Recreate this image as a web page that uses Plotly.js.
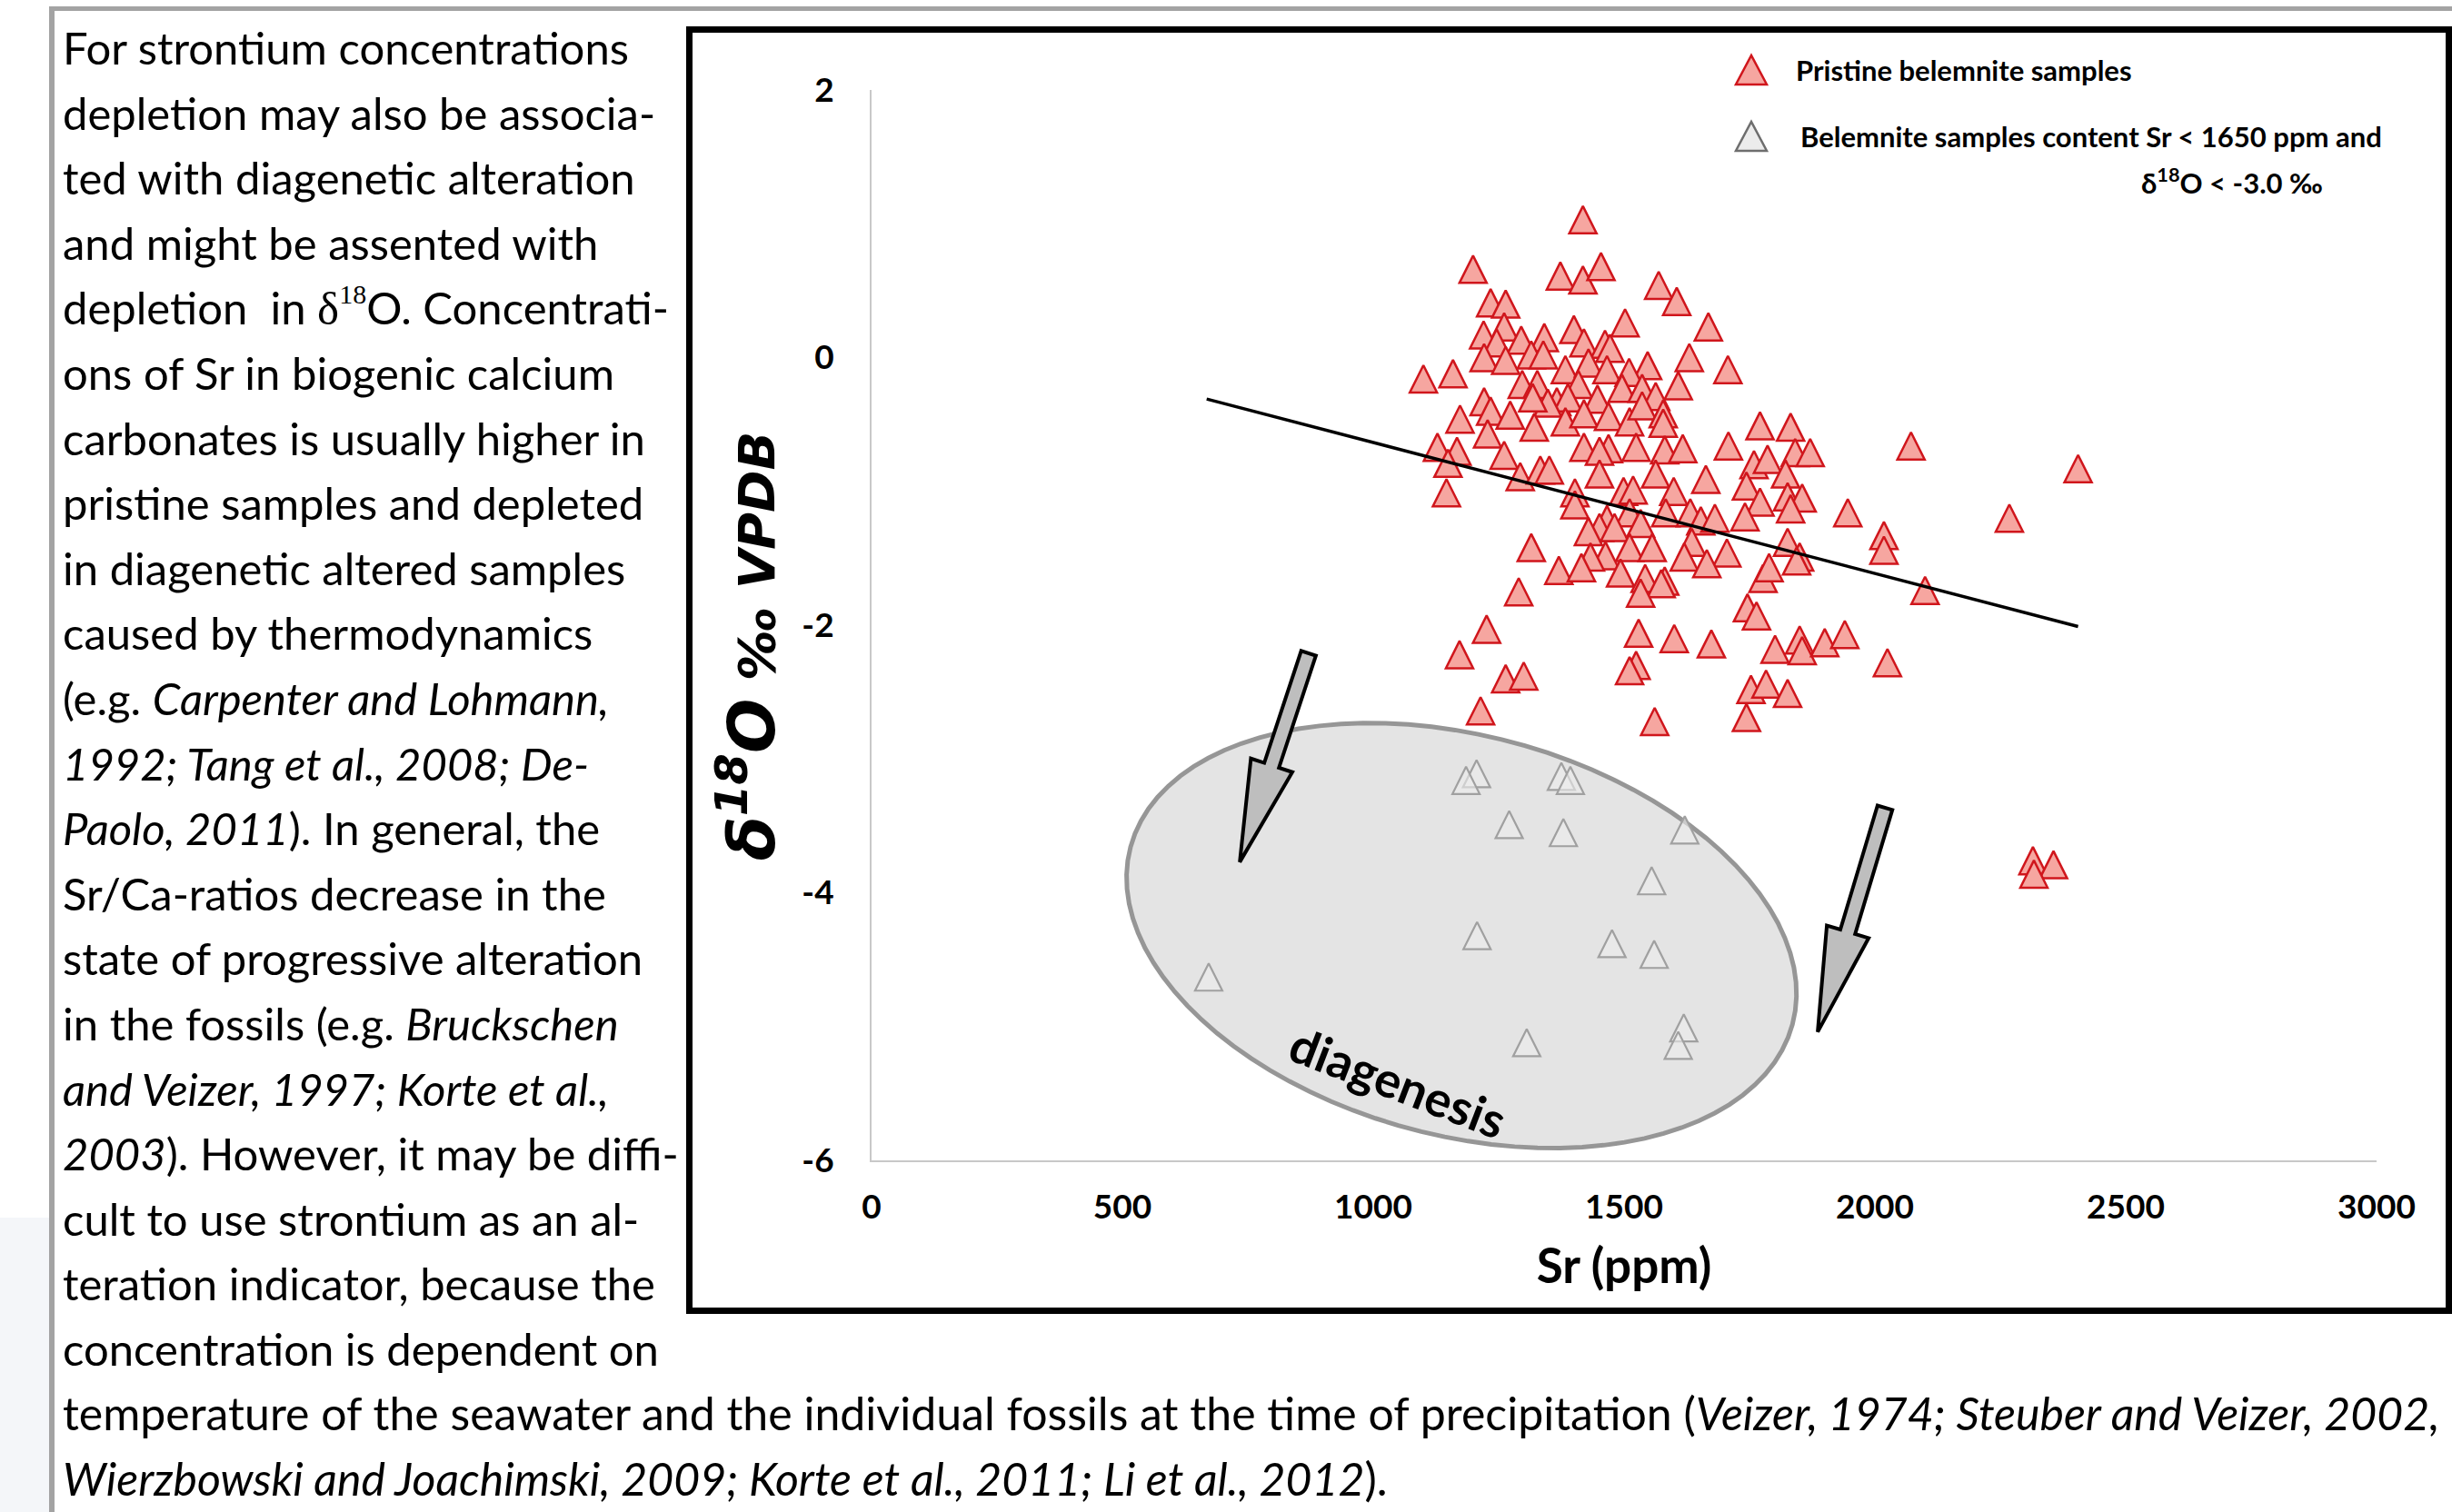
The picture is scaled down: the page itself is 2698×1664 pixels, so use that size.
<!DOCTYPE html>
<html><head><meta charset="utf-8">
<script src="https://cdn.plot.ly/plotly-3.0.1.min.js"></script>
<style>
html,body{margin:0;padding:0;background:#fff;}
body{width:2698px;height:1664px;position:relative;overflow:hidden;}
#frameTop{position:absolute;left:54px;top:7px;width:2644px;height:5px;background:#a3a3a3;}
#frameLeft{position:absolute;left:54px;top:7px;width:6px;height:1657px;background:#a3a3a3;}
#leftShade{position:absolute;left:0;top:1340px;width:54px;height:324px;background:#f4f6f9;}
#text{position:absolute;left:69px;top:17px;font-family:Lato,sans-serif;font-size:49px;line-height:71.6px;color:#000;white-space:nowrap;}
#text div{height:71.6px;}
#text div.wide{font-size:50px;}
.serif{font-family:'Liberation Serif',serif;font-size:51px;}
.sup{font-family:'Liberation Serif',serif;font-size:30px;position:relative;top:-23px;}
#box{position:absolute;left:755px;top:29px;width:1943px;height:1417px;border:7px solid #000;box-sizing:border-box;}
#chart{position:absolute;left:762px;top:36px;width:1929px;height:1403px;}
</style></head>
<body>
<div id="frameTop"></div><div id="frameLeft"></div><div id="leftShade"></div>
<div id="text">
<div>For strontium concentrations</div>
<div>depletion may also be associa-</div>
<div>ted with diagenetic alteration</div>
<div>and might be assented with</div>
<div>depletion &nbsp;in <span class="serif">δ</span><span class="sup">18</span>O. Concentrati-</div>
<div>ons of Sr in biogenic calcium</div>
<div>carbonates is usually higher in</div>
<div>pristine samples and depleted</div>
<div>in diagenetic altered samples</div>
<div>caused by thermodynamics</div>
<div>(e.g. <i>Carpenter and Lohmann,</i></div>
<div><i>1992; Tang et al., 2008; De-</i></div>
<div><i>Paolo, 2011</i>). In general, the</div>
<div>Sr/Ca-ratios decrease in the</div>
<div>state of progressive alteration</div>
<div>in the fossils (e.g. <i>Bruckschen</i></div>
<div><i>and Veizer, 1997; Korte et al.,</i></div>
<div><i>2003</i>). However, it may be diffi-</div>
<div>cult to use strontium as an al-</div>
<div>teration indicator, because the</div>
<div>concentration is dependent on</div>
<div class="wide">temperature of the seawater and the individual fossils at the time of precipitation (<i>Veizer, 1974; Steuber and Veizer, 2002,</i></div>
<div class="wide"><i>Wierzbowski and Joachimski, 2009; Korte et al., 2011; Li et al., 2012</i>).</div>
</div>
<div id="box"></div>
<div id="chart"></div>
<script>
// ---------- data ----------
const redX = [1418,1199,1373,1418,1454,1569,1605,1234,1264,1261,1220,1246,1295,1341,1400,1502,1668,1420,1462,1472,
  1221,1264,1315,1339,1383,1429,1466,1547,1630,1707,1100,1159,1510,1297,1327,1409,1608,1496,1536,1563,
  1221,1366,1388,1447,1348,1318,1173,1234,1273,1321,1383,1420,1469,1511,1536,1578,1578,1771,1228,1128,
  1167,1261,1420,1469,1451,1524,1581,1617,1708,1149,1293,1333,1351,1451,1563,1663,1759,1832,2072,2405,
  1841,1871,1786,1822,1146,1402,1402,1499,1518,1599,1744,1771,1511,1466,1451,1429,1481,1533,1583,1632,
  1653,1681,1741,1635,1511,1556,1463,1433,1705,1620,1665,1315,1370,1415,1493,1542,1581,1574,1533,1777,
  1290,1746,1764,1226,1529,1600,1674,1172,1524,1511,1264,1300,1753,1744,1214,1561,1826,1855,1832,1946,
  2268,2018,2018,1826,1850,1844,1789,2100,1801,1850,1855,1900,1940,2025,1783,1826,2315,2356,2317];
const redY = [1.03,0.66,0.61,0.58,0.68,0.54,0.42,0.41,0.40,0.23,0.17,0.11,0.13,0.15,0.21,0.26,0.23,0.11,0.10,0.07,
  0.00,-0.02,0.02,0.02,-0.09,-0.04,-0.09,-0.06,0.00,-0.09,-0.16,-0.12,-0.11,-0.20,-0.20,-0.20,-0.21,-0.23,-0.23,-0.29,
  -0.33,-0.33,-0.30,-0.31,-0.34,-0.30,-0.46,-0.40,-0.43,-0.52,-0.48,-0.42,-0.44,-0.48,-0.36,-0.42,-0.49,-0.51,-0.57,-0.67,
  -0.70,-0.73,-0.67,-0.68,-0.70,-0.67,-0.69,-0.68,-0.66,-0.79,-0.89,-0.84,-0.84,-0.87,-0.87,-0.91,-0.80,-0.52,-0.66,-0.83,
  -0.71,-0.71,-0.76,-0.87,-1.01,-1.01,-1.10,-1.00,-0.99,-1.00,-0.96,-1.08,-1.16,-1.21,-1.27,-1.30,-1.27,-1.24,-1.16,-1.16,
  -1.22,-1.20,-1.19,-1.38,-1.42,-1.42,-1.48,-1.49,-1.46,-1.49,-1.54,-1.42,-1.59,-1.57,-1.61,-1.65,-1.67,-1.69,-1.76,-1.65,
  -1.75,-1.87,-1.93,-2.03,-2.06,-2.10,-2.14,-2.22,-2.30,-2.34,-2.40,-2.38,-2.48,-2.69,-2.64,-2.72,-1.04,-1.05,-1.13,-1.16,
  -1.20,-1.33,-1.44,-1.38,-1.49,-1.52,-1.57,-1.74,-2.18,-2.11,-2.19,-2.13,-2.07,-2.28,-2.44,-2.51,-3.76,-3.79,-3.86];
const grayX = [1206,1185,1375,1393,1271,1379,1621,1555,1207,1476,1560,672,1619,1608,1306];
const grayY = [-3.11,-3.16,-3.13,-3.16,-3.49,-3.55,-3.53,-3.91,-4.32,-4.38,-4.46,-4.63,-5.01,-5.14,-5.12];
const trendX = [668, 2405];
const trendY = [-0.31, -2.01];
const xTickVals = [0, 500, 1000, 1500, 2000, 2500, 3000];
const yTickVals = [-6, -4, -2, 0, 2];
const seriesNames = ['Pristine belemnite samples', 'Belemnite samples content Sr &lt; 1650 ppm and'];
const legendExtra = 'δ<sup>18</sup>O &lt; -3.0 ‰';
const xTitle = 'Sr (ppm)';
const yTitle = '<span style="font-size:71px">δ<sup>18</sup>O</span> ‰ VPDB';
const zoneLabel = 'diagenesis';

// ---------- geometry ----------
const W = 1929, H = 1403;
const M = {l:197, r:76, t:63, b:162};
const plotW = W - M.l - M.r, plotH = H - M.t - M.b;
const XR = [0, 3000], YR = [-6, 2];
const pxX = plotW/(XR[1]-XR[0]), pxY = plotH/(YR[1]-YR[0]);
const divLeft = 762, divTop = 36;
function paperX(px){ return (px - divLeft - M.l)/plotW; }
function paperY(py){ return 1 - (py - divTop - M.t)/plotH; }

function ellipsePath(cx, cy, a, b, rotDeg){
  const th = rotDeg*Math.PI/180; let d = '';
  for(let i=0;i<=90;i++){
    const t = i/90*2*Math.PI;
    const dx = a*Math.cos(t)*Math.cos(th) - b*Math.sin(t)*Math.sin(th);
    const dy = a*Math.cos(t)*Math.sin(th) + b*Math.sin(t)*Math.cos(th);
    d += (i?'L':'M') + (cx + dx/pxX).toFixed(2) + ',' + (cy - dy/pxY).toFixed(4);
  }
  return d + 'Z';
}
function blockArrow(tail, tip, shaftW, headW, headL){
  const dxp = (tip[0]-tail[0])*pxX, dyp = -(tip[1]-tail[1])*pxY;
  const L = Math.hypot(dxp, dyp), ux = dxp/L, uy = dyp/L, nx = -uy, ny = ux;
  const pts = [[0,-shaftW/2],[L-headL,-shaftW/2],[L-headL,-headW/2],[L,0],[L-headL,headW/2],[L-headL,shaftW/2],[0,shaftW/2]];
  let d = '';
  pts.forEach((p,i)=>{
    const sx = p[0]*ux + p[1]*nx, sy = p[0]*uy + p[1]*ny;
    d += (i?'L':'M') + (tail[0] + sx/pxX).toFixed(2) + ',' + (tail[1] - sy/pxY).toFixed(4);
  });
  return d + 'Z';
}
function legendTri(cx, cy, w, h){
  return 'M' + paperX(cx-w/2) + ',' + paperY(cy+h/2) + 'L' + paperX(cx+w/2) + ',' + paperY(cy+h/2) +
         'L' + paperX(cx) + ',' + paperY(cy-h/2) + 'Z';
}

const redFill = 'rgb(246,166,160)', redLine = 'rgb(208,22,28)';
const grayFill = 'rgba(236,236,236,0.6)', grayLine = 'rgb(160,160,160)';

const traces = [
  {x: redX, y: redY, type:'scatter', mode:'markers', name: seriesNames[0], showlegend:false,
   marker:{symbol:'arrow-down', angle:180, standoff:15, size:30, color:redFill, line:{color:redLine, width:2.5}}},
  {x: grayX, y: grayY, type:'scatter', mode:'markers', name: seriesNames[1], showlegend:false,
   marker:{symbol:'arrow-down', angle:180, standoff:15, size:30, color:grayFill, line:{color:grayLine, width:2.2}}},
  {x: trendX, y: trendY, type:'scatter', mode:'lines', showlegend:false, line:{color:'#000', width:3.5}}
];

const tickFont = {family:'Lato', size:37, weight:'bold', color:'#000'};
const layout = {
  width: W, height: H, margin: M,
  paper_bgcolor:'#fff', plot_bgcolor:'#fff',
  font:{family:'Lato', color:'#000'},
  showlegend:false,
  xaxis:{range:XR, tickvals:xTickVals, ticktext:xTickVals.map(String), showgrid:false, zeroline:false,
    showline:true, linecolor:'#c8c8c8', linewidth:2, ticks:'outside', ticklen:18, tickcolor:'rgba(0,0,0,0)',
    tickfont:tickFont, automargin:false,
    title:{text:xTitle, font:{family:'Lato', size:53, weight:'bold', color:'#000'}, standoff:26}},
  yaxis:{range:YR, tickvals:yTickVals, ticktext:yTickVals.map(String), showgrid:false, zeroline:false,
    showline:true, linecolor:'#c8c8c8', linewidth:2, ticks:'outside', ticklen:32, tickcolor:'rgba(0,0,0,0)',
    tickfont:tickFont, automargin:false},
  shapes:[
    {type:'path', xref:'x', yref:'y', layer:'below', path: ellipsePath(1176, -4.32, 377, 220, 15),
     fillcolor:'rgb(228,228,228)', line:{color:'rgb(150,150,150)', width:5}},
    {type:'path', xref:'x', yref:'y', layer:'above', path: blockArrow([871,-2.21],[734,-3.77],17,48,112),
     fillcolor:'rgb(190,190,190)', line:{color:'#000', width:4}},
    {type:'path', xref:'x', yref:'y', layer:'above', path: blockArrow([2020,-3.365],[1886,-5.04],17,48,115),
     fillcolor:'rgb(190,190,190)', line:{color:'#000', width:4}},
    {type:'path', xref:'paper', yref:'paper', path: legendTri(1927, 77, 34, 32),
     fillcolor:redFill, line:{color:redLine, width:2.5}},
    {type:'path', xref:'paper', yref:'paper', path: legendTri(1927, 150, 34, 32),
     fillcolor:'rgb(236,236,236)', line:{color:'rgb(110,110,110)', width:2.5}}
  ],
  annotations:[
    {text: yTitle, x:paperX(822), y:paperY(711), xref:'paper', yref:'paper', xanchor:'center', yanchor:'middle',
     showarrow:false, textangle:-90,
     font:{family:'DejaVu Sans', size:56, weight:'bold', style:'italic', color:'#000'}},
    {text: zoneLabel, x:1049, y:-5.41, xref:'x', yref:'y', showarrow:false, textangle:21,
     font:{family:'Lato', size:54, weight:'bold', color:'#000'}},
    {text: seriesNames[0], x:paperX(1974), y:paperY(77), xref:'paper', yref:'paper', xanchor:'left', yanchor:'middle',
     showarrow:false, font:{family:'Lato', size:31, weight:'bold', color:'#000'}},
    {text: seriesNames[1], x:paperX(1979), y:paperY(150), xref:'paper', yref:'paper', xanchor:'left', yanchor:'middle',
     showarrow:false, font:{family:'Lato', size:31, weight:'bold', color:'#000'}},
    {text: legendExtra, x:paperX(2354), y:paperY(200), xref:'paper', yref:'paper', xanchor:'left', yanchor:'middle',
     showarrow:false, font:{family:'Lato', size:31, weight:'bold', color:'#000'}}
  ]
};
Plotly.newPlot('chart', traces, layout, {staticPlot:true, displayModeBar:false});
</script>
</body></html>
